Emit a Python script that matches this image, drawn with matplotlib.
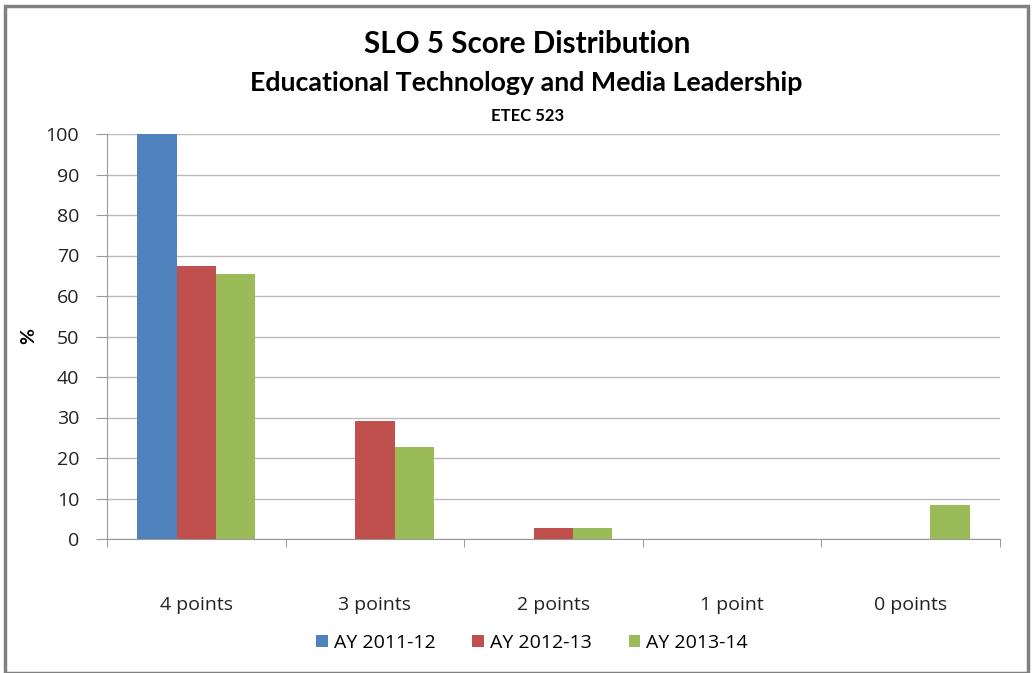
import matplotlib
matplotlib.use("Agg")
import matplotlib.pyplot as plt
import numpy as np
from matplotlib.patches import Rectangle

categories = ["4 points", "3 points", "2 points", "1 point", "0 points"]
series_names = ["AY 2011-12", "AY 2012-13", "AY 2013-14"]
ay_2011_12 = [100, 0, 0, 0, 0]
ay_2012_13 = [67.4, 29.2, 2.8, 0, 0]
ay_2013_14 = [65.4, 22.6, 2.8, 0, 8.3]
colors = ["#4F81BD", "#C0504D", "#9BBB59"]
yticks = list(range(0, 101, 10))

plt.rcParams['font.family'] = ['Lato', 'DejaVu Sans']
TICKFONT = ['Open Sans', 'DejaVu Sans']

fig = plt.figure(figsize=(10.35, 6.73), dpi=100)
ax = fig.add_axes([107/1035, 1-539/673, 893/1035, 405/673])

x = np.arange(len(categories))
w = 0.22
for i, (vals, name, c) in enumerate(zip([ay_2011_12, ay_2012_13, ay_2013_14], series_names, colors)):
    ax.bar(x + (i - 1) * w, vals, width=w, color=c, label=name, zorder=3)

ax.set_xlim(-0.5, len(categories) - 0.5)
ax.set_ylim(0, 100)
ax.set_yticks(yticks)
ax.set_yticklabels([str(t) for t in yticks], fontsize=14, color="#222222", family=TICKFONT)
ax.set_xticks(x)
ax.set_xticklabels(categories, fontsize=14, color="#222222", family=TICKFONT)
ax.set_xticks(np.arange(-0.5, len(categories), 1), minor=True)
ax.tick_params(axis='x', which='major', length=0, pad=41)
ax.tick_params(axis='x', which='minor', length=6, color="#888888", direction='out')
ax.tick_params(axis='y', length=8, color="#999999", pad=12)
ax.yaxis.grid(True, color="#BBBBBB", linewidth=1, zorder=0)
for s in ['top', 'right']:
    ax.spines[s].set_visible(False)
for s in ['left', 'bottom']:
    ax.spines[s].set_color("#999999")

ax.set_ylabel("%", fontsize=14, fontweight='bold', labelpad=6)

fig.text(527/1035, 1-44/673, "SLO 5 Score Distribution", ha='center', va='center', fontsize=21.3, fontweight='bold')
fig.text(526/1035, 1-83/673, "Educational Technology and Media Leadership", ha='center', va='center', fontsize=19.3, fontweight='bold')
fig.text(528/1035, 1-116/673, "ETEC 523", ha='center', va='center', fontsize=12, fontweight='bold')

leg = fig.legend(loc='center', bbox_to_anchor=(532/1035, 1-643/673), ncol=3, frameon=False,
                 prop={'family': TICKFONT, 'size': 14},
                 handlelength=0.6, handleheight=0.6, handletextpad=0.3, columnspacing=1.9)

fig.patches.append(Rectangle((5/1035, 0), 1028/1035 - 5/1035, 1-6/673, transform=fig.transFigure,
                             fill=False, edgecolor="#808080", linewidth=2.5))

fig.savefig("out.png", dpi=100)
